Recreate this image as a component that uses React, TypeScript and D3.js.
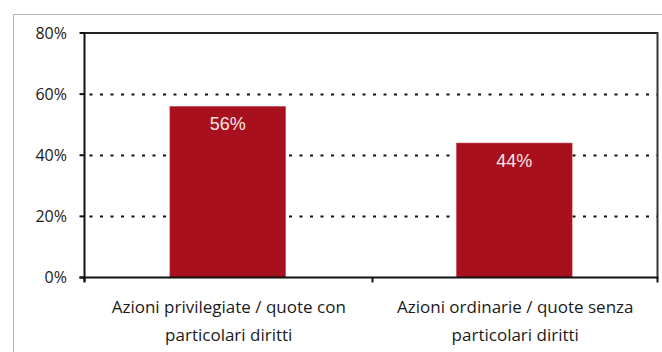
import React from "react";
import * as d3 from "d3";

const categories: string[][] = [
  ["Azioni privilegiate / quote con", "particolari diritti"],
  ["Azioni ordinarie / quote senza", "particolari diritti"],
];
const values: number[] = [56, 44];
const yTicks: number[] = [0, 20, 40, 60, 80];

export default function App() {
  const W = 662, H = 352;
  const left = 84.5, right = 657.5, top = 33, bottom = 277.5;
  const y = d3.scaleLinear().domain([0, 80]).range([bottom, top]);
  const x = d3
    .scaleBand<number>()
    .domain(values.map((_, i) => i))
    .range([left, right])
    .paddingInner(0.596)
    .paddingOuter(0.298);
  const step = x.step();
  const font = "'Open Sans', 'DejaVu Sans', sans-serif";

  return (
    <svg
      width={W}
      height={H}
      style={{ position: "absolute", left: 0, top: 0, background: "#fff" }}
    >
      <rect x={13.5} y={14.5} width={700} height={400} fill="none" stroke="#b4b4b4" strokeWidth={1} />
      {/* gridlines */}
      {yTicks.filter((t) => t > 0 && t < 80).map((t) => (
        <line
          key={"g" + t}
          x1={left + 5}
          x2={right}
          y1={Math.round(y(t)) + 0.5}
          y2={Math.round(y(t)) + 0.5}
          stroke="#111"
          strokeWidth={2}
          strokeDasharray="3 7.5"
        />
      ))}
      {/* bars */}
      {values.map((v, i) => (
        <g key={"b" + i}>
          <rect
            x={x(i)!}
            y={y(v)}
            width={x.bandwidth()}
            height={bottom - y(v)}
            fill="#a8101e"
            stroke="#c0505a"
            strokeWidth={0.5}
          />
          <text
            x={x(i)! + x.bandwidth() / 2}
            y={y(v) + 24}
            textAnchor="middle"
            fill="#f8e6e6"
            fontFamily="Arial, 'Liberation Sans', sans-serif"
            fontSize={18}
          >
            {v}%
          </text>
        </g>
      ))}
      {/* frame */}
      <line x1={left} x2={right} y1={top} y2={top} stroke="#222" strokeWidth={2} />
      <line x1={right} x2={right} y1={top - 1} y2={bottom} stroke="#333" strokeWidth={2} />
      <line x1={left} x2={left} y1={top - 1} y2={bottom + 4} stroke="#111" strokeWidth={2} />
      <line x1={left - 5} x2={right + 1} y1={bottom} y2={bottom} stroke="#111" strokeWidth={2} />
      {/* y ticks */}
      {yTicks.map((t) => (
        <g key={"t" + t}>
          <line x1={left - 5} x2={left} y1={y(t)} y2={y(t)} stroke="#111" strokeWidth={2} />
          <text
            x={67}
            y={y(t) + 5.5}
            textAnchor="end"
            fill="#1a1a1a"
            fontFamily={font}
            fontSize={16}
          >
            {t}%
          </text>
        </g>
      ))}
      {/* x ticks */}
      {[0, 1, 2].map((k) => (
        <line
          key={"x" + k}
          x1={left + k * step + (k === 1 ? 1.5 : 0)}
          x2={left + k * step + (k === 1 ? 1.5 : 0)}
          y1={bottom}
          y2={bottom + 5}
          stroke="#111"
          strokeWidth={2}
        />
      ))}
      {/* category labels */}
      {categories.map((lines, i) => (
        <text
          key={"c" + i}
          textAnchor="middle"
          fill="#1a1a1a"
          fontFamily={font}
          fontSize={17}
        >
          {lines.map((l, j) => (
            <tspan key={j} x={x(i)! + x.bandwidth() / 2 + 1} y={313 + j * 28}>
              {l}
            </tspan>
          ))}
        </text>
      ))}
    </svg>
  );
}
